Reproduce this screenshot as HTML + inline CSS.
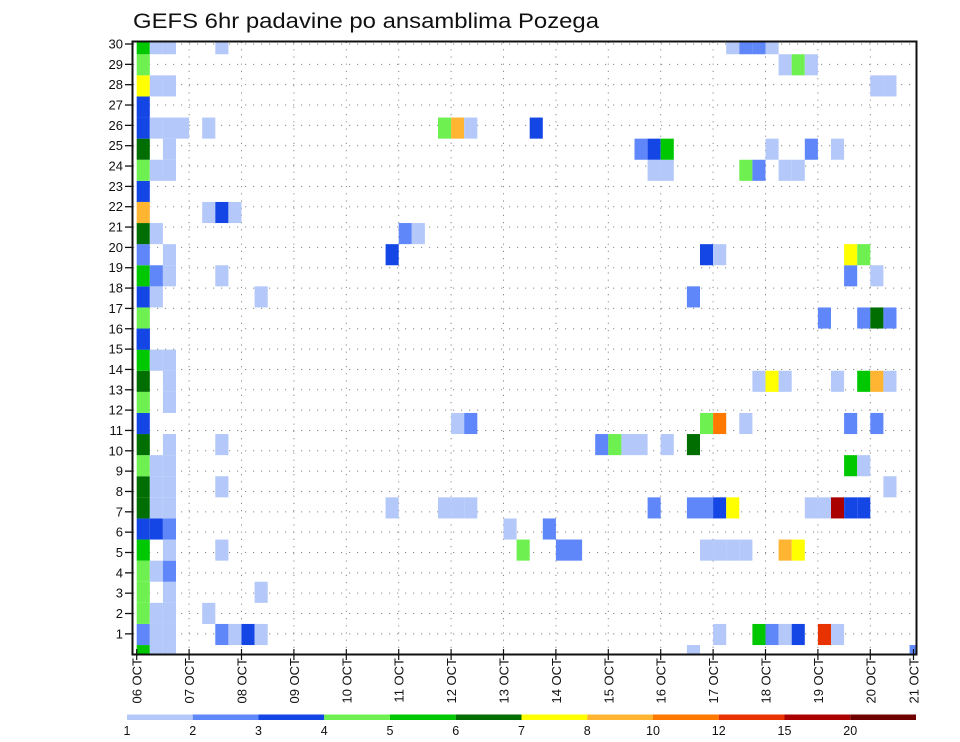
<!DOCTYPE html>
<html><head><meta charset="utf-8"><style>
html,body{margin:0;padding:0;background:#fff;}
svg{display:block;font-family:"Liberation Sans",sans-serif;}
</style></head><body>
<svg id="chart" width="960" height="742" viewBox="0 0 960 742" xmlns="http://www.w3.org/2000/svg">
<defs><clipPath id="plotclip"><rect x="133" y="42" width="783" height="612"/></clipPath></defs>
<text x="133" y="28" font-size="21" textLength="466" lengthAdjust="spacingAndGlyphs" fill="#111">GEFS 6hr padavine po ansamblima Pozega</text>
<g id="grid"></g>
<g id="cells" clip-path="url(#plotclip)"></g>
<rect x="132.5" y="41.5" width="784" height="613" fill="none" stroke="#111" stroke-width="2"/>
<g id="yaxis"></g>
<g id="xaxis"></g>
<g id="legend"></g>
</svg>
<script>
// Data: member rows (0..30), each with [6h step index, precip category value]
const members = [0,1,2,3,4,5,6,7,8,9,10,11,12,13,14,15,16,17,18,19,20,21,22,23,24,25,26,27,28,29,30];
const precip = [
 [[0,5],[1,1],[2,1],[42,1],[59,2]],
 [[0,2],[1,1],[2,1],[6,2],[7,1],[8,3],[9,1],[44,1],[47,5],[48,2],[49,1],[50,3],[52,12],[53,1]],
 [[0,4],[1,1],[2,1],[5,1]],
 [[0,4],[2,1],[9,1]],
 [[0,4],[1,1],[2,2]],
 [[0,5],[2,1],[6,1],[29,4],[32,2],[33,2],[43,1],[44,1],[45,1],[46,1],[49,8],[50,7]],
 [[0,3],[1,3],[2,2],[28,1],[31,2]],
 [[0,6],[1,1],[2,1],[19,1],[23,1],[24,1],[25,1],[39,2],[42,2],[43,2],[44,3],[45,7],[51,1],[52,1],[53,15],[54,3],[55,3]],
 [[0,6],[1,1],[2,1],[6,1],[57,1]],
 [[0,4],[1,1],[2,1],[54,5],[55,1]],
 [[0,6],[2,1],[6,1],[35,2],[36,4],[37,1],[38,1],[40,1],[42,6]],
 [[0,3],[24,1],[25,2],[43,4],[44,10],[46,1],[54,2],[56,2]],
 [[0,4],[2,1]],
 [[0,6],[2,1],[47,1],[48,7],[49,1],[53,1],[55,5],[56,8],[57,1]],
 [[0,5],[1,1],[2,1]],
 [[0,3]],
 [[0,3]],
 [[0,4],[52,2],[55,2],[56,6],[57,2]],
 [[0,3],[1,1],[9,1],[42,2]],
 [[0,5],[1,2],[2,1],[6,1],[54,2],[56,1]],
 [[0,2],[2,1],[19,3],[43,3],[44,1],[54,7],[55,4]],
 [[0,6],[1,1],[20,2],[21,1]],
 [[0,8],[5,1],[6,3],[7,1]],
 [[0,3]],
 [[0,4],[1,1],[2,1],[39,1],[40,1],[46,4],[47,2],[49,1],[50,1]],
 [[0,6],[2,1],[38,2],[39,3],[40,5],[48,1],[51,2],[53,1]],
 [[0,3],[1,1],[2,1],[3,1],[5,1],[23,4],[24,8],[25,1],[30,3]],
 [[0,3]],
 [[0,7],[1,1],[2,1],[56,1],[57,1]],
 [[0,4],[49,1],[50,4],[51,1]],
 [[0,5],[1,1],[2,1],[6,1],[45,1],[46,2],[47,2],[48,1]]
];
const dayLabels = ["06 OCT","07 OCT","08 OCT","09 OCT","10 OCT","11 OCT","12 OCT","13 OCT","14 OCT","15 OCT","16 OCT","17 OCT","18 OCT","19 OCT","20 OCT","21 OCT"];
const yTickLabels = [1,2,3,4,5,6,7,8,9,10,11,12,13,14,15,16,17,18,19,20,21,22,23,24,25,26,27,28,29,30];
const levels = [1,2,3,4,5,6,7,8,10,12,15,20];
const levelColors = ["#b4c8fa","#5f87fa","#1446e6","#6ef050","#00c800","#006e00","#ffff00","#ffb432","#ff7800","#e83200","#aa0000","#6e0000"];

const NS = "http://www.w3.org/2000/svg";
function mk(tag, attrs, parent){const e=document.createElementNS(NS,tag);for(const k in attrs)e.setAttribute(k,attrs[k]);parent.appendChild(e);return e;}
// axis functions
const X0 = 136.7, STEP = 13.1, DAY = 52.4;
function xStep(s){return X0 + s*STEP;}
function xDay(d){return X0 + d*DAY;}
function yTick(r){return 44 + (30-r)*20.34;}
function yCellCenter(r){const k = r>=16 ? 30-r : 29-r; return 43.7 + k*21.1;}
const CELL_H = 21.1;
function colorFor(v){let c=levelColors[0];for(let i=0;i<levels.length;i++){if(v>=levels[i])c=levelColors[i];}return c;}

const grid=document.getElementById('grid');
yTickLabels.forEach(r=>{
  const l=mk('line',{x1:133,x2:916,y1:yTick(r),y2:yTick(r),stroke:'#8a8a8a','stroke-width':1,'stroke-dasharray':'1.2,6.8'},grid);
  
  
});
for(let d=1; d<dayLabels.length-1; d++){
  const l=mk('line',{x1:xDay(d),x2:xDay(d),y1:42,y2:654,stroke:'#8a8a8a','stroke-width':1,'stroke-dasharray':'1.2,6'},grid);
  
  
}

const cells=document.getElementById('cells');
members.forEach((m,i)=>{
  precip[i].forEach(p=>{
    const rc=mk('rect',{x:xStep(p[0]),y:yCellCenter(m)-CELL_H/2,width:STEP,height:CELL_H,fill:colorFor(p[1])},cells);
    
    
  });
});

const ya=document.getElementById('yaxis');
yTickLabels.forEach(r=>{
  const t=mk('line',{x1:125,x2:133,y1:yTick(r),y2:yTick(r),stroke:'#111','stroke-width':1.3},ya);
  
  
  const tx=mk('text',{x:123,y:yTick(r)+4.5,'font-size':13,'text-anchor':'end',fill:'#111'},ya);
  tx.textContent=r;
  
  
});

const xa=document.getElementById('xaxis');
dayLabels.forEach((lab,d)=>{
  const x=Math.min(xDay(d),913.5);
  const t=mk('line',{x1:x,x2:x,y1:649,y2:660,stroke:'#111','stroke-width':1.2},xa);
  
  
  const tx=mk('text',{x:0,y:0,'font-size':13,'text-anchor':'end',fill:'#111',transform:'translate('+(x+5)+',658) rotate(-90)'},xa);
  tx.textContent=lab;
  
  
});

const lg=document.getElementById('legend');
const LX0=127, LW=65.75;
levels.forEach((v,i)=>{
  const r=mk('rect',{x:LX0+i*LW,y:714.5,width:LW,height:5.5,fill:levelColors[i]},lg);
  
  
  const t=mk('text',{x:LX0+i*LW,y:735,'font-size':12.5,'text-anchor':'middle',fill:'#111'},lg);
  t.textContent=v;
  
  
});
</script>
</body></html>
